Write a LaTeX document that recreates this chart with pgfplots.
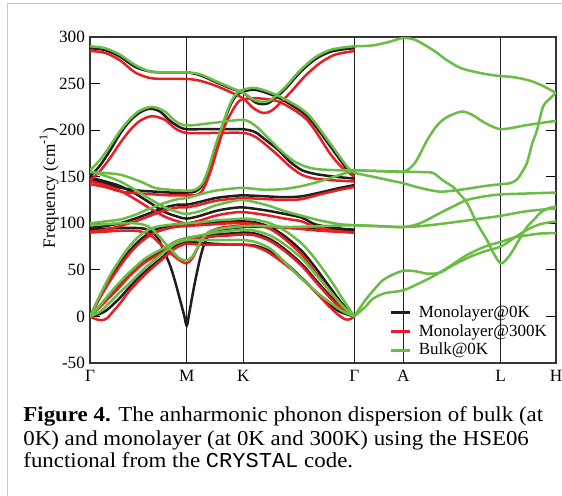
\documentclass[border=0pt]{standalone}
\usepackage{fontspec}
\setmainfont{Liberation Serif}
\setmonofont{Liberation Mono}
\newfontfamily\capfont{Liberation Serif}[FakeStretch=1.08]
\newfontfamily\capmono{Liberation Mono}[FakeStretch=1.04]
\usepackage{pgfplots}
\pgfplotsset{compat=1.18}
\definecolor{cblk}{RGB}{30,30,30}
\definecolor{cred}{RGB}{232,30,36}
\definecolor{cgrn}{RGB}{106,188,68}
\pgfplotsset{
  blk/.style={cblk, line width=1.25pt, smooth, forget plot},
  red/.style={cred, line width=1.25pt, smooth, forget plot},
  grn/.style={cgrn, line width=1.25pt, smooth, forget plot},
}
\begin{document}
\begin{tikzpicture}
\useasboundingbox (0,0) rectangle (281pt,247.5pt);
\draw[black!22, line width=0.75pt] (3.75pt,-2pt) -- (3.75pt,245.75pt) -- (284pt,245.75pt);
\begin{axis}[
  at={(45pt,66pt)}, anchor=south west,
  scale only axis, width=233pt, height=163pt,
  xmin=0, xmax=466, ymin=-50, ymax=300,
  xtick={0,96.7,153.3,264.3,313.3,410.7,466},
  xticklabels={Γ,M,K,Γ,A,L,H},
  ytick={-50,0,50,100,150,200,250,300},
  xmajorgrids, x grid style={cblk, line width=0.5pt},
  xtick style={draw=none},
  ytick style={line width=0.5pt, black},
  major tick length=5pt,
  tick align=inside,
  axis line style={line width=0.9pt, black!80},
  tick label style={font=\fontsize{8.6}{10}\selectfont},
  yticklabel style={xshift=1pt},
  /pgf/number format/assume math mode=true,
  ylabel={Frequency (cm\textsuperscript{-1})},
  every axis y label/.style={at={(axis description cs:-0.088,0.537)}, rotate=90, anchor=center, font=\fontsize{8.6}{10}\selectfont},
  legend style={at={(0.642,0.19)}, anchor=north west, draw=none, fill=none, font=\fontsize{8.5}{10}\selectfont, row sep=-2pt, inner sep=0pt,
    /tikz/every odd column/.append style={column sep=1.5pt}},
  legend cell align=left,
  legend image code/.code={\draw[#1, line width=1.6pt] (0pt,0pt) -- (9.5pt,0pt);},
]
% ---------------- black: monolayer 0K
\addplot[blk] coordinates {(0,288)(15,286)(30,279)(45,268)(60,263)(75,262)(96.7,262)(110,259)(125,252)(140,245)(153.3,240)(165,230)(172,228)(180,230)(195,244)(210,262)(225,276)(240,284)(255,287)(264.3,288)};
\addplot[blk] coordinates {(0,150)(10,162)(20,178)(30,196)(40,210)(50,219)(60,223)(70,220)(80,210)(90,203)(96.7,201)(110,201)(125,201)(140,201)(153.3,201)(165,198)(175,190)(188,179)(200,166)(212,157)(225,153)(245,150)(264.3,148)};
\addplot[blk] coordinates {(0,147)(15,143)(31,138)(50,135)(65,134)(80,133)(96.7,133)(105,134)(112,140)(118,155)(125,180)(132,203)(140,226)(147,238)(155,242)(167,243)(190,234)(217,215)(240,183)(257,158)(264.3,151)};
\addplot[blk] coordinates {(0,149)(15,145)(30,140)(45,132)(60,122)(75,112)(88,107)(96.7,105)(110,108)(125,113)(140,116)(153.3,117)(175,114)(195,110)(212,106)(225,99)(245,95)(264.3,93)};
\addplot[blk] coordinates {(0,95)(15,97)(30,100)(45,105)(60,111)(75,117)(88,120)(96.7,120)(110,123)(125,127)(140,129)(153.3,130)(175,129)(195,128)(212,129)(230,133)(250,138)(264.3,141)};
\addplot[blk] coordinates {(0,93)(15,94)(30,95)(45,95)(55,94)(62,90)(68,84)(74,70)(80,55)(85,38)(90,18)(94,2)(96.7,-10)(99,2)(102,20)(105,37)(110,62)(115,80)(120,88)(130,93)(145,95)(153.3,96)(175,96)(200,95)(230,94)(264.3,93)};
\addplot[blk] coordinates {(0,0)(8,2)(17,7)(30,20)(40,32)(55,48)(73,64)(85,76)(96.7,80)(110,79)(125,78)(140,77)(153.3,77)(165,76)(180,70)(195,58)(212,41)(225,27)(238,14)(250,5)(264.3,0)};
\addplot[blk] coordinates {(0,0)(10,11)(20,23)(30,34)(40,46)(55,60)(73,71)(85,80)(96.7,84)(110,86)(125,88)(140,89)(153.3,90)(165,89)(180,83)(195,72)(212,56)(225,40)(240,22)(252,9)(264.3,0)};
\addplot[blk] coordinates {(0,0)(10,21)(20,40)(30,57)(40,71)(50,82)(60,90)(70,95)(85,98)(96.7,99)(110,100)(125,101)(140,102)(153.3,102)(165,101)(180,96)(195,86)(212,70)(225,53)(240,31)(252,14)(264.3,0)};
% ---------------- red: monolayer 300K
\addplot[red] coordinates {(0,285)(15,283)(30,275)(45,262)(60,256)(75,255)(96.7,255)(110,253)(125,248)(140,241)(153.3,234)(163,224)(173,218.5)(183,222)(200,240)(215,258)(230,272)(245,281)(264.3,285)};
\addplot[red] coordinates {(0,146)(10,156)(20,170)(30,186)(40,200)(50,210)(62,215)(75,211)(85,202)(96.7,197)(125,197)(153.3,197)(165,193)(175,185)(188,173)(200,161)(212,152)(225,148)(245,146)(264.3,145)};
\addplot[red] coordinates {(0,142)(15,139)(31,134)(50,132)(65,131)(80,130)(96.7,130)(108,131)(114,138)(121,157)(128,182)(135,205)(143,222)(150,232)(160,234)(170,234)(190,230)(217,211)(240,175)(252,160)(264.3,150)};
\addplot[red] coordinates {(0,145)(15,141)(30,135)(45,126)(60,116)(75,107)(88,102)(96.7,100)(110,103)(125,108)(140,111)(153.3,112)(175,109)(195,105)(212,102)(225,96)(245,92)(264.3,90)};
\addplot[red] coordinates {(0,91)(15,93)(30,97)(45,102)(60,108)(75,114)(88,117)(96.7,117)(110,120)(125,124)(140,126)(153.3,127)(175,126)(195,125)(212,126)(230,131)(250,136)(264.3,139)};
\addplot[red] coordinates {(0,90)(15,91)(30,92)(45,92)(55,90)(62,86)(70,78)(78,70)(85,64)(90,60)(96.7,57)(102,62)(107,72)(112,83)(118,90)(130,95)(145,97)(153.3,98)(175,97)(200,95)(230,92)(264.3,90)};
\addplot[red] coordinates {(0,0)(6,-3)(12,-4)(17,-2)(22,4)(30,14)(40,28)(55,45)(73,62)(85,73)(96.7,78)(110,77)(125,77)(140,77)(153.3,77)(165,75)(178,69)(195,56)(212,41)(225,27)(238,12)(248,2)(255,-3)(260,-3)(264.3,0)};
\addplot[red] coordinates {(0,0)(10,10)(20,21)(30,32)(40,44)(55,58)(73,69)(85,78)(96.7,82)(110,84)(125,86)(140,87)(153.3,88)(165,87)(180,81)(195,70)(212,54)(225,38)(240,20)(252,8)(264.3,0)};
\addplot[red] coordinates {(0,0)(10,20)(20,38)(30,54)(40,68)(50,79)(60,87)(70,92)(85,96)(96.7,97)(110,98)(125,99)(140,100)(153.3,100)(165,99)(180,94)(195,83)(212,66)(225,48)(240,27)(252,11)(264.3,0)};
% ---------------- green: bulk 0K
\addplot[grn] coordinates {(0,290)(15,288)(30,281)(45,270)(60,263)(75,262)(96.7,262)(110,260)(125,253)(140,246)(153.3,240)(163,233)(170,230.5)(180,232)(195,246)(210,264)(225,278)(240,286)(255,289)(264.3,290)};
\addplot[grn] coordinates {(0,157)(10,168)(20,183)(30,199)(40,212)(50,221)(62,225)(75,220)(85,210)(96.7,205)(125,208)(153.3,211)(165,205)(175,195)(190,179)(205,166)(222,159)(245,157)(264.3,157)};
\addplot[grn] coordinates {(0,155)(15,154)(31,152)(50,145)(65,138)(80,136)(96.7,135)(105,136)(112,142)(118,157)(125,182)(132,204)(140,228)(147,240)(155,244)(167,245)(190,236)(217,218)(240,186)(257,161)(264.3,154)};
\addplot[grn] coordinates {(0,156)(15,151)(30,145)(45,136)(60,126)(75,117)(88,112)(96.7,110)(110,113)(125,119)(140,123)(153.3,125)(175,120)(195,113)(212,108)(230,103)(250,99)(264.3,98)};
\addplot[grn] coordinates {(0,100)(15,102)(30,104)(45,109)(60,116)(75,122)(88,126)(96.7,127)(110,131)(125,135)(140,137)(153.3,138)(175,136)(195,137)(212,140)(230,145)(250,152)(264.3,157)};
\addplot[grn] coordinates {(0,98)(15,99)(30,100)(45,100)(55,98)(62,94)(70,85)(78,75)(85,67)(90,62)(96.7,60)(102,64)(107,73)(112,83)(118,90)(130,94)(145,96)(153.3,97)(175,97)(200,96)(230,97)(264.3,98)};
\addplot[grn] coordinates {(0,0)(10,5)(20,15)(30,26)(40,36)(55,52)(73,68)(85,78)(96.7,82)(110,82)(125,82)(140,82)(153.3,82)(165,80)(180,73)(195,58)(212,40)(228,25)(240,15)(252,6)(264.3,0)};
\addplot[grn] coordinates {(0,0)(10,12)(20,25)(30,37)(40,48)(55,62)(73,73)(85,80)(96.7,84)(110,87)(125,90)(140,92)(153.3,93)(165,92)(180,87)(195,77)(212,62)(225,46)(240,27)(252,12)(264.3,0)};
\addplot[grn] coordinates {(0,0)(10,23)(20,44)(30,61)(40,76)(50,87)(60,94)(70,97)(85,99)(96.7,100)(110,101)(125,103)(140,104)(153.3,105)(165,104)(180,100)(195,92)(212,78)(225,62)(240,40)(252,20)(264.3,0)};
% bulk Gamma-A-L-H
\addplot[grn] coordinates {(264.3,290)(283,291)(300,295)(313.3,299)(325,297)(337,290)(347,283)(357,275)(370,267)(383,263)(397,260)(410.7,258)(423,257)(437,254)(450,249)(466,240)};
\addplot[grn] coordinates {(264.3,154)(283,150)(300,146)(313.3,143)(330,138)(350,134)(370,136)(395,140)(410.7,142)(420,143)(427,147)(432,155)(437,165)(442,185)(447,200)(453,225)(460,234)(466,240)};
\addplot[grn] coordinates {(264.3,157)(290,156)(313.3,155.5)(325,165)(337,189)(347,205)(357,214)(372,220)(383,216)(390,211)(400,205)(410.7,201)(425,203)(437,205.5)(466,210)};
\addplot[grn] coordinates {(264.3,157)(290,156)(313.3,155.5)(330,155)(343,154)(353,146)(363,139)(370,131)(377,122)(387,100)(397,82)(404,67)(410.7,57)(417,62)(423,71)(430,84)(437,96)(445,105)(450,111)(458,116)(466,118)};
\addplot[grn] coordinates {(264.3,98)(290,97)(313.3,96)(330,100)(350,111)(363,118)(377,125)(395,129)(410.7,131)(437,132)(466,133)};
\addplot[grn] coordinates {(264.3,98)(313.3,96)(340,98)(370,102)(390,105)(410.7,108)(437,113)(466,116)};
\addplot[grn] coordinates {(264.3,0)(275,10)(283,19)(295,25)(313.3,28)(330,36)(343,43)(360,54)(377,66)(395,75)(410.7,80)(425,85)(437,87)(450,89)(466,89.5)};
\addplot[grn] coordinates {(264.3,0)(275,17)(285,30)(293,39)(303,45)(313.3,49)(325,48.6)(337,46)(350,47)(363,55)(380,64)(395,70)(410.7,75)(425,85)(437,93)(450,99)(466,102)};
\addlegendimage{cblk}\addlegendentry{Monolayer@0K}
\addlegendimage{cred}\addlegendentry{Monolayer@300K}
\addlegendimage{cgrn}\addlegendentry{Bulk@0K}
\end{axis}
\node[anchor=base west, inner sep=0pt, font=\capfont\fontsize{10.6}{11.5}\selectfont] at (11.5pt,36.65pt) {\textbf{Figure 4.} The anharmonic phonon dispersion of bulk (at};
\node[anchor=base west, inner sep=0pt, font=\capfont\fontsize{10.6}{11.5}\selectfont] at (11.5pt,25pt) {0K) and monolayer (at 0K and 300K) using the HSE06};
\node[anchor=base west, inner sep=0pt, font=\capfont\fontsize{10.6}{11.5}\selectfont] at (11.5pt,14pt) {functional from the {\capmono CRYSTAL} code.};
\end{tikzpicture}
\end{document}
